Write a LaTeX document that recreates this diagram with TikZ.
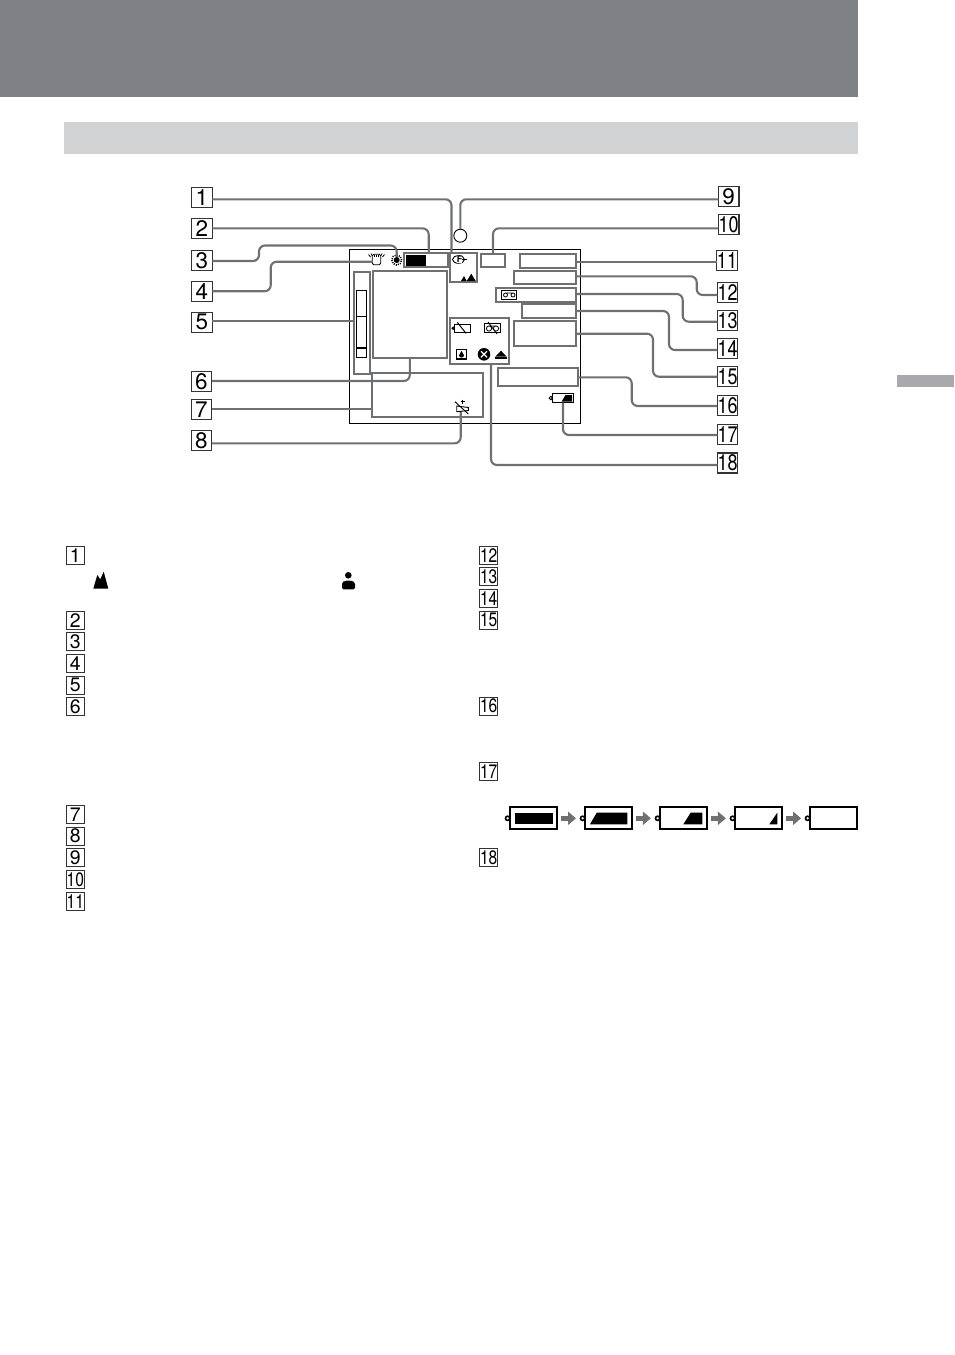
\documentclass[tikz,border=0pt]{standalone}
\usepackage{fontspec}
\setmainfont{TeX Gyre Heros}
\usepackage{xcolor}
\usepackage{tikz}
\usetikzlibrary{arrows.meta}
\definecolor{bandDark}{HTML}{808184}
\definecolor{bandLight}{HTML}{D1D2D4}
\definecolor{tabGrey}{HTML}{A7A9AC}
\definecolor{leadGrey}{HTML}{6F7072}
\newcommand{\twodig}[1]{\scalebox{.8}[1]{#1}}
\tikzset{
  numbig/.style={draw=black!80,line width=1.1pt,inner sep=0pt,outer sep=0pt,minimum width=20.5pt,minimum height=20pt,font=\fontsize{22.5}{22.5}\selectfont},
  numsmall/.style={draw=black!80,line width=1pt,inner sep=0pt,outer sep=0pt,minimum width=18.5pt,minimum height=18pt,font=\fontsize{19.5}{19.5}\selectfont},
  scrbox/.style={draw=leadGrey,line width=2.1pt,inner sep=0pt,outer sep=0pt},
  leader/.style={draw=leadGrey,line width=2.1pt,rounded corners=6pt},
  battbody/.style={draw=black,line width=1.9pt,fill=white,inner sep=0pt,outer sep=0pt,minimum width=47pt,minimum height=22pt},
  battarrow/.style={draw=leadGrey,line width=4.5pt,-{Triangle[length=8pt,width=13pt]},shorten <=4pt,shorten >=9pt},
}
\begin{document}
\begin{tikzpicture}[x=1pt,y=-1pt]
  \useasboundingbox (0,0) rectangle (954,1355);
  % page bands
  \fill [bandDark](0,0) rectangle (858,97);
  \fill [bandLight](64,122) rectangle (858,154);
  \fill [tabGrey](897,375) rectangle (954,387);
  % screen and its groups
  \node [draw=black,line width=1.1pt,inner sep=0pt,minimum width=231.5pt,minimum height=174pt] (screen) at (465,336.3) {};
  \node [scrbox,minimum width=44pt,minimum height=14pt] (box2) at (426,260) {};
  \node [scrbox,minimum width=27pt,minimum height=29pt] (boxF) at (463.5,267.5) {};
  \node [scrbox,minimum width=24pt,minimum height=13pt] (box10) at (493,260.5) {};
  \node [scrbox,minimum width=56pt,minimum height=13.7pt] (box11) at (547.7,261.2) {};
  \node [scrbox,minimum width=62pt,minimum height=13.3pt] (box12) at (544.7,277.3) {};
  \node [scrbox,minimum width=79.4pt,minimum height=13.7pt] (box13) at (536,294.8) {};
  \node [scrbox,minimum width=53.5pt,minimum height=13.7pt] (box14) at (548.8,311.1) {};
  \node [scrbox,minimum width=61.7pt,minimum height=25.3pt] (box15) at (544.8,333.7) {};
  \node [scrbox,minimum width=79.7pt,minimum height=17.7pt] (box16) at (538.2,376.8) {};
  \node [scrbox,minimum width=59pt,minimum height=45.7pt] (box18) at (479.5,341.2) {};
  \node [scrbox,minimum width=73.7pt,minimum height=86.7pt] (box6) at (409.8,314.7) {};
  \node [scrbox,minimum width=16.3pt,minimum height=102.3pt] (box5) at (361.8,323.2) {};
  \node [scrbox,minimum width=111pt,minimum height=43.7pt] (box7) at (427.8,395.2) {};
  % numbers, left
  \node [numbig] (num1) at (202,197.7) {1};
  \node [numbig] (num2) at (202,228.7) {2};
  \node [numbig] (num3) at (202,260.3) {3};
  \node [numbig] (num4) at (202,291.2) {4};
  \node [numbig] (num5) at (202,322.2) {5};
  \node [numbig] (num6) at (201.5,381.5) {6};
  \node [numbig] (num7) at (201.5,409.5) {7};
  \node [numbig] (num8) at (201.5,440.3) {8};
  % numbers, right
  \node [numbig] (num9) at (728.7,196.7) {9};
  \node [numbig] (num10) at (728.7,224.7) {\twodig{10}};
  \node [numbig] (num11) at (727,260.3) {\twodig{11}};
  \node [numbig] (num12) at (727.6,292.3) {\twodig{12}};
  \node [numbig] (num13) at (727.6,320.3) {\twodig{13}};
  \node [numbig] (num14) at (727.6,348.7) {\twodig{14}};
  \node [numbig] (num15) at (727.6,376.7) {\twodig{15}};
  \node [numbig] (num16) at (727.6,405.3) {\twodig{16}};
  \node [numbig] (num17) at (727.6,434.3) {\twodig{17}};
  \node [numbig] (num18) at (727.6,463) {\twodig{18}};
  % icons the leaders end on
  \node [circle,draw=black,line width=.9pt,inner sep=0pt,outer sep=0pt,minimum size=13pt] (lamp) at (460.3,235.7) {};
  \node [circle,fill=black,inner sep=0pt,outer sep=0pt,minimum size=6pt] (sun) at (396.7,260) {};
  \draw [line width=1.6pt,dash pattern=on 1pt off 1.2pt](sun) circle (5pt);
  \node [draw=black,line width=.9pt,rounded corners=1.5pt,inner sep=0pt,outer sep=0pt,minimum width=8.5pt,minimum height=10.5pt] (hand) at (376.5,259.5) {};
  \node [draw=black,line width=1pt,fill=white,inner sep=0pt,outer sep=0pt,minimum width=20.6pt,minimum height=9.4pt] (scrbatt) at (563,398) {};
  \coordinate (flash) at (460.7,411);
  % leaders
  \draw [leader](num1.east |- 0,199.3) -| (451.5,253);
  \draw [leader](num2.east |- 0,228.4) -| (428.7,253);
  \draw [leader](num3.east |- 0,261) -| (259,245.5) -| (sun.north);
  \draw [leader](num4.east) -| (270.7,261.7) -- (hand.west |- 0,261.7);
  \draw [leader](num5.east |- 0,321) -- (box5.west |- 0,321);
  \draw [leader](num6.east |- 0,381) -| (box6.south);
  \draw [leader](num7.east |- 0,408.7) -- (box7.west |- 0,408.7);
  \draw [leader](num8.east |- 0,443.3) -| (flash);
  \draw [leader](num9.west |- 0,199.3) -| (lamp.north);
  \draw [leader](num10.west |- 0,228.3) -| (box10.north);
  \draw [leader](box11.east |- 0,261.7) -- (num11.west |- 0,261.7);
  \draw [leader](box12.east |- 0,276.3) -| (696.7,295) -- (num12.west |- 0,295);
  \draw [leader](box13.east |- 0,294) -| (682.7,321.7) -- (num13.west |- 0,321.7);
  \draw [leader](box14.east |- 0,311) -| (669,350) -- (num14.west |- 0,350);
  \draw [leader](box15.east |- 0,333.7) -| (653,376.7) -- (num15.west);
  \draw [leader](box16.east |- 0,377.3) -| (631.7,406) -- (num16.west |- 0,406);
  \draw [leader](num17.west |- 0,435) -| (scrbatt.south);
  \draw [leader](num18.west |- 0,465) -| (491,364);
  % icon details
  \draw [line width=.8pt](368.5,254.5)--(370.5,257) (371,253.5)--(371.8,255.5) (382,253.5)--(381.2,255.5) (384.5,254.5)--(382.5,257);
  \draw [line width=.8pt](374.5,254.5)--(374.5,257) (376.5,254.5)--(376.5,257) (378.5,254.5)--(378.5,257);
  \fill (406,255) rectangle (426,266);
  \draw [line width=.9pt](458.5,259.5) ellipse (6pt and 3.8pt);
  \node [inner sep=0pt,fill=white,font=\fontsize{9}{9}\bfseries\selectfont] (flabel) at (459.5,259.5) {F};
  \draw [line width=.9pt](flabel.east)--(466.7,259.5);
  \fill (461,281)--(464,276)--(466.7,281)--cycle;
  \fill (466.7,281)--(471.3,273.7)--(475.7,281)--cycle;
  \draw [line width=1.5pt](356.7,290.7) rectangle (366.7,357.3);
  \draw [line width=.6pt](356.7,316.7)--(366.7,316.7);
  \draw [line width=2.6pt](356.7,348)--(366.7,348);
  % tape in box 13
  \draw [line width=1pt](501.7,290.7) rectangle (516.7,299.3);
  \draw [line width=.8pt](505.5,295) circle (2pt) (513,295) circle (2pt) (505.5,293)--(513,293);
  % warnings
  \draw [line width=1pt](454.3,324.5) rectangle (470.7,332);
  \draw [line width=1pt,fill=white](453.2,328.2) circle (1.2pt);
  \draw [line width=1pt](457.3,322.3)--(466,333.3);
  \draw [line width=1pt](484.3,323.3) rectangle (500.7,332.7);
  \draw [line width=.8pt](489,328.5) circle (2.6pt) (496,328.5) circle (2.6pt) (489,325.9)--(496,325.9);
  \draw [line width=.9pt](488,322)--(497,334);
  \draw [line width=1.2pt](456.5,349.5) rectangle (466.5,359);
  \fill (461.5,350.8) .. controls (461.8,353) and (464,353.8) .. (464,355.4) .. controls (464,358.2) and (459,358.2) .. (459,355.4) .. controls (459,353.8) and (461.2,353) .. (461.5,350.8);
  \fill (484,354.3) circle (6.3pt);
  \draw [white,line width=1.3pt](481,351.3)--(487,357.3) (481,357.3)--(487,351.3);
  \fill (495.3,356.7)--(501,350.7)--(506.7,356.7)--cycle;
  \fill (495.3,357.4) rectangle (506.7,359.4);
  % crossed icon in box 7
  \draw [line width=.9pt](456.7,406)--(468.3,407.5)--(468.3,410.5)--(456.7,411.7)--cycle;
  \draw [line width=.9pt](462.7,399.5)--(462.7,404) (460.5,401.7)--(465,401.7);
  \draw [line width=.9pt](455,401.7)--(468.3,414);
  % screen battery
  \draw [line width=1pt,fill=white](550.9,398) circle (1.7pt);
  \fill (561.7,401.5)--(565.5,395)--(572.2,395)--(572.2,401.5)--cycle;
  % legend numbers, left
  \node [numsmall] (leg1) at (75.3,555.2) {1};
  \node [numsmall] (leg2) at (75.3,620.2) {2};
  \node [numsmall] (leg3) at (75.3,641.3) {3};
  \node [numsmall] (leg4) at (75.3,663.2) {4};
  \node [numsmall] (leg5) at (75.3,685.2) {5};
  \node [numsmall] (leg6) at (75.3,706.5) {6};
  \node [numsmall] (leg7) at (75.3,814.5) {7};
  \node [numsmall] (leg8) at (75.3,836.2) {8};
  \node [numsmall] (leg9) at (75.3,857.8) {9};
  \node [numsmall] (leg10) at (75.3,879.3) {\twodig{10}};
  \node [numsmall] (leg11) at (75.3,901.2) {\twodig{11}};
  % legend numbers, right
  \node [numsmall] (leg12) at (488.7,555.2) {\twodig{12}};
  \node [numsmall] (leg13) at (488.7,576.5) {\twodig{13}};
  \node [numsmall] (leg14) at (488.7,598.3) {\twodig{14}};
  \node [numsmall] (leg15) at (488.7,620.2) {\twodig{15}};
  \node [numsmall] (leg16) at (488.7,706.2) {\twodig{16}};
  \node [numsmall] (leg17) at (488.7,771.2) {\twodig{17}};
  \node [numsmall] (leg18) at (488.7,857.8) {\twodig{18}};
  % legend icons
  \fill (93.3,588.7)--(97.3,575)--(100.3,579.3)--(103.7,571.7)--(108.3,588.7)--cycle;
  \fill (348.3,575.3) circle (3.3pt);
  \fill [rounded corners=1.5pt](342,589.3)--(342,582.5)--(345,580.7)--(351.7,580.7)--(355,582.5)--(355,589.3)--cycle;
  % battery row
  \node [battbody] (batt1) at (533.6,818.3) {};
  \node [battbody] (batt2) at (608.5,818.3) {};
  \node [battbody] (batt3) at (683.4,818.3) {};
  \node [battbody] (batt4) at (758.4,818.3) {};
  \node [battbody] (batt5) at (833.6,818.3) {};
  \draw [battarrow](batt1.east)--(batt2.west);
  \draw [battarrow](batt2.east)--(batt3.west);
  \draw [battarrow](batt3.east)--(batt4.west);
  \draw [battarrow](batt4.east)--(batt5.west);
  \draw [line width=1.6pt,fill=white](507.6,818.3) circle (2.1pt) (582.6,818.3) circle (2.1pt) (657.6,818.3) circle (2.1pt) (732.6,818.3) circle (2.1pt) (807.6,818.3) circle (2.1pt);
  \fill (515,812.7) rectangle (552.7,824.3);
  \fill (590,824.3)--(596.7,812.7)--(627.3,812.7)--(627.3,824.3)--cycle;
  \fill (683.3,824.3)--(690.7,812.7)--(702.3,812.7)--(702.3,824.3)--cycle;
  \fill (769.3,824.3)--(777.3,812.7)--(777.3,824.3)--cycle;
\end{tikzpicture}
\end{document}
